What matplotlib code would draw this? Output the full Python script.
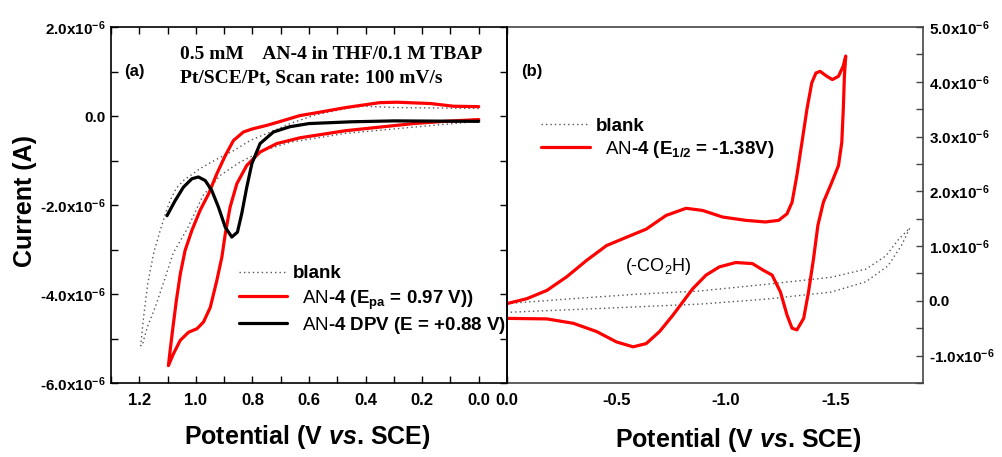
import matplotlib
matplotlib.use('Agg')
import matplotlib.pyplot as plt
from matplotlib.ticker import MultipleLocator, FuncFormatter
import numpy as np

plt.rcParams.update({
    'font.family': 'Liberation Sans',
    'mathtext.fontset': 'custom',
    'mathtext.rm': 'Liberation Sans',
    'mathtext.it': 'Liberation Sans:italic',
    'mathtext.bf': 'Liberation Sans:bold',
    'mathtext.bfit': 'Liberation Sans:italic:bold',
    'mathtext.default': 'regular',
})

# ---- panel (a): oxidation, potential in V, current in uA ----
cv_a_E = [0.00, 0.09, 0.17, 0.29, 0.35, 0.47, 0.585, 0.632, 0.70, 0.749, 0.80, 0.832,
          0.867, 0.896, 0.926, 0.955, 0.985, 1.014, 1.038, 1.055, 1.069, 1.081, 1.091, 1.097,
          1.079, 1.055, 1.026, 0.996, 0.973, 0.949, 0.926, 0.908, 0.896, 0.879, 0.855,
          0.82, 0.773, 0.714, 0.632, 0.47, 0.35, 0.23, 0.12, 0.00]
cv_a_I = [0.21, 0.22, 0.28, 0.31, 0.30, 0.19, 0.06, 0.01, -0.12, -0.21, -0.29, -0.36,
          -0.55, -0.89, -1.30, -1.75, -2.12, -2.57, -3.02, -3.55, -4.15, -4.75, -5.27, -5.61,
          -5.34, -5.04, -4.86, -4.78, -4.63, -4.30, -3.70, -3.17, -2.65, -2.05, -1.52,
          -1.11, -0.81, -0.62, -0.49, -0.33, -0.25, -0.17, -0.12, -0.08]

dpv_a_E = [1.102, 1.073, 1.044, 1.014, 0.991, 0.967, 0.944, 0.920, 0.896, 0.873, 0.853,
           0.838, 0.820, 0.802, 0.773, 0.726, 0.667, 0.60, 0.45, 0.30, 0.00]
dpv_a_I = [-2.24, -1.90, -1.60, -1.41, -1.37, -1.45, -1.67, -2.05, -2.50, -2.72, -2.61,
           -2.20, -1.60, -1.07, -0.62, -0.36, -0.24, -0.17, -0.13, -0.11, -0.12]

blank_a_E = [0.00, 0.29, 0.41, 0.47, 0.58, 0.667, 0.714, 0.808, 0.867, 0.926, 0.985,
             1.044, 1.07, 1.091, 1.11, 1.126, 1.148, 1.17, 1.185, 1.195,
             1.19, 1.172, 1.144, 1.115, 1.08, 1.03, 0.975, 0.915, 0.845, 0.763, 0.667,
             0.47, 0.23, 0.00]
blank_a_I = [0.17, 0.19, 0.22, 0.17, 0.02, -0.17, -0.30, -0.55, -0.78, -0.97, -1.18,
             -1.45, -1.63, -1.90, -2.24, -2.57, -3.05, -3.76, -4.53, -5.16,
             -5.16, -4.75, -4.30, -3.76, -3.08, -2.53, -1.79, -1.34, -1.04, -0.78, -0.59,
             -0.39, -0.25, -0.12]

# ---- panel (b): reduction ----
cv_b_E = [0.000, -0.091, -0.182, -0.273, -0.364, -0.455, -0.545, -0.636, -0.727, -0.818,
          -0.894, -0.985, -1.09, -1.18, -1.241, -1.279, -1.302, -1.324, -1.347, -1.370,
          -1.392, -1.411, -1.430, -1.461, -1.486, -1.514, -1.536, -1.547,
          -1.541, -1.536, -1.529, -1.514, -1.483, -1.445, -1.420, -1.400, -1.377, -1.355,
          -1.324, -1.302, -1.279, -1.249, -1.211, -1.17, -1.121, -1.045, -0.970, -0.909,
          -0.848, -0.803, -0.758, -0.697, -0.636, -0.576, -0.500, -0.409, -0.303, -0.182,
          0.000]
cv_b_I = [-0.05, 0.04, 0.19, 0.44, 0.74, 1.01, 1.16, 1.31, 1.56, 1.69,
          1.65, 1.53, 1.47, 1.44, 1.47, 1.59, 1.80, 2.29, 2.89, 3.50,
          3.98, 4.16, 4.19, 4.10, 4.04, 4.10, 4.29, 4.47,
          4.10, 3.50, 2.89, 2.47, 2.16, 1.80, 1.38, 0.77, 0.16, -0.32,
          -0.53, -0.50, -0.26, 0.16, 0.47, 0.56, 0.68, 0.70, 0.62, 0.47,
          0.22, -0.02, -0.26, -0.56, -0.78, -0.84, -0.75, -0.56, -0.41, -0.33,
          -0.32]

blank_b_E = [0.00, -0.30, -0.59, -0.88, -1.18, -1.48, -1.64, -1.73, -1.79, -1.84,
             -1.80, -1.74, -1.64, -1.48, -1.18, -0.88, -0.59, -0.30, 0.00]
blank_b_I = [-0.05, 0.04, 0.12, 0.18, 0.30, 0.43, 0.58, 0.82, 1.13, 1.33,
             1.00, 0.64, 0.35, 0.16, 0.03, -0.06, -0.11, -0.16, -0.21]

scale = 1e-6
red_style = dict(color='#ff0000', lw=2.3, solid_capstyle='round', solid_joinstyle='round')
black_style = dict(color='black', lw=2.3, solid_capstyle='round', solid_joinstyle='round')
blank_style = dict(color='#555555', lw=1.0, linestyle=(0, (1, 2.2)))


def sci_fmt(v, pos):
    if abs(v) < 1e-12:
        return '0.0'
    return '%.1fx10$^{-6}$' % (v / 1e-6)


def pot_fmt(v, pos):
    return '0.0' if abs(v) < 1e-9 else '%.1f' % v


fig = plt.figure(figsize=(10.03, 4.57), dpi=100)
ax1 = fig.add_axes([111 / 1003, 74 / 457, 396 / 1003, 356 / 457])
ax2 = fig.add_axes([507 / 1003, 74 / 457, 416 / 1003, 356 / 457])
ax1.set_zorder(3)
ax1.patch.set_alpha(0)

# panel (a)
ax1.plot(blank_a_E, np.array(blank_a_I) * scale, **blank_style)
ax1.plot(cv_a_E, np.array(cv_a_I) * scale, **red_style)
ax1.plot(dpv_a_E, np.array(dpv_a_I) * scale, **black_style)
ax1.set_xlim(1.3, -0.1)
ax1.set_ylim(-6e-6, 2e-6)
ax1.xaxis.set_major_locator(MultipleLocator(0.2))
ax1.xaxis.set_minor_locator(MultipleLocator(0.1))
ax1.xaxis.set_major_formatter(FuncFormatter(pot_fmt))
ax1.yaxis.set_major_locator(MultipleLocator(2e-6))
ax1.yaxis.set_minor_locator(MultipleLocator(1e-6))
ax1.yaxis.set_major_formatter(FuncFormatter(sci_fmt))
ax1.tick_params(which='both', direction='in', top=True, length=5, width=1, labelsize=12, pad=7)
ax1.tick_params(axis='y', labelsize=11, pad=4)
ax1.tick_params(axis='y', which='both', left=True, right=True, labelright=False)
# ticks of panel (a)'s right spine cross into panel (b)
ax1.tick_params(axis='y', which='both', right=True, direction='inout', length=9)
ax1.tick_params(axis='y', which='both', left=True, direction='in', length=5)
for t in ax1.get_xticklabels() + ax1.get_yticklabels():
    t.set_fontweight('bold')
for s in ax1.spines.values():
    s.set_linewidth(1.2)

ax1.set_xlabel('Potential (V $\\mathbfit{vs}$. SCE)', fontsize=18, fontweight='bold', va='center')
ax1.xaxis.set_label_coords(0.495, -0.152)
ax1.set_ylabel('Current (A)', fontsize=18, fontweight='bold', va='center')
ax1.yaxis.set_label_coords(-0.217, 0.51)

ax1.text(0.033, 0.874, '(a)', transform=ax1.transAxes, fontsize=12, fontweight='bold', va='center')
ax1.text(0.174, 0.924, '0.5 mM    AN-4 in THF/0.1 M TBAP', transform=ax1.transAxes,
         fontsize=14, fontweight='bold', family='Liberation Serif', va='center')
ax1.text(0.174, 0.858, 'Pt/SCE/Pt, Scan rate: 100 mV/s', transform=ax1.transAxes,
         fontsize=14, fontweight='bold', family='Liberation Serif', va='center')

# legend (a)
leg_a = [('blank', blank_style, 0.312, 0.4596),
         ('$\\mathrm{AN}$-4 (E$_{pa}$ = 0.97 V))', red_style, 0.244, 0.4823),
         ('$\\mathrm{AN}$-4 DPV (E = +0.88 V)', black_style, 0.169, 0.4823)]
for label, st, yy, tx in leg_a:
    ax1.plot([0.3232, 0.4444], [yy, yy], transform=ax1.transAxes, **st)
    ax1.text(tx, yy, label, transform=ax1.transAxes, fontsize=13.5, fontweight='bold',
             va='center_baseline', clip_on=False)

# panel (b)
ax2.plot(blank_b_E, np.array(blank_b_I) * scale, **blank_style)
ax2.plot(cv_b_E, np.array(cv_b_I) * scale, **red_style)
ax2.set_xlim(0.0, -1.9)
ax2.set_ylim(-1.5e-6, 5e-6)
ax2.xaxis.set_major_locator(MultipleLocator(0.5))
ax2.xaxis.set_minor_locator(MultipleLocator(0.25))
ax2.xaxis.set_major_formatter(FuncFormatter(pot_fmt))
ax2.yaxis.set_major_locator(MultipleLocator(1e-6))
ax2.yaxis.set_minor_locator(MultipleLocator(0.5e-6))
ax2.yaxis.set_major_formatter(FuncFormatter(sci_fmt))
ax2.yaxis.tick_right()
ax2.tick_params(which='both', direction='in', top=True, bottom=True, left=False, right=True,
                length=5, width=1, labelsize=12, pad=7, color='#444444')
ax2.tick_params(axis='x', which='both', bottom=True, length=0)
ax2.tick_params(axis='x', which='both', top=True)
ax2.tick_params(axis='y', labelsize=11, pad=4)
for t in ax2.get_xticklabels() + ax2.get_yticklabels():
    t.set_fontweight('bold')
for name, s in ax2.spines.items():
    s.set_linewidth(1.2)
    s.set_color('black' if name == 'left' else '#444444')

ax2.set_xlabel('Potential (V $\\mathbfit{vs}$. SCE)', fontsize=18, fontweight='bold', va='center')
ax2.xaxis.set_label_coords(0.555, -0.16)

ax2.text(0.033, 0.874, '(b)', transform=ax2.transAxes, fontsize=12, fontweight='bold', va='center')
ax2.text(0.284, 0.326, '(-CO$_2$H)', transform=ax2.transAxes, fontsize=13, va='center')

leg_b = [('blank', blank_style, 0.7275, 0.214),
         ('$\\mathrm{AN}$-4 (E$_{1/2}$ = -1.38V)', red_style, 0.663, 0.2356)]
for label, st, yy, tx in leg_b:
    ax2.plot([0.0817, 0.1995], [yy, yy], transform=ax2.transAxes, **st)
    ax2.text(tx, yy, label, transform=ax2.transAxes, fontsize=13.5, fontweight='bold',
             va='center_baseline')

fig.savefig('out.png', dpi=100, facecolor='white')
